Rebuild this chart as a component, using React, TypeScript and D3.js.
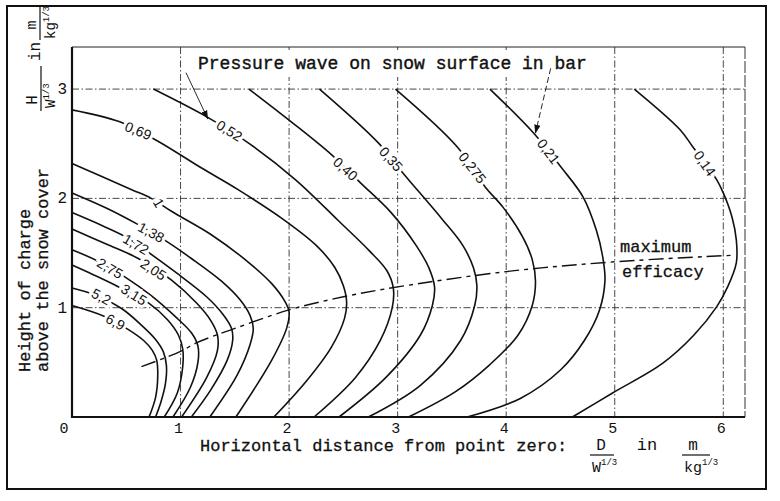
import React from 'react';
import * as d3 from 'd3';

const xTicks = [0, 1, 2, 3, 4, 5, 6];
const yTicks = [1, 2, 3];

const c6_9 = [[0,1.02],[0.3,0.92],[0.52,0.80],[0.66,0.70],[0.74,0.61],[0.78,0.52],[0.79,0.38],[0.77,0.18],[0.71,0]];
const c5_2 = [[0,1.18],[0.23,1.11],[0.46,0.99],[0.64,0.84],[0.77,0.71],[0.84,0.60],[0.87,0.47],[0.86,0.30],[0.82,0.14],[0.77,0]];
const c3_15 = [[0,1.39],[0.2,1.30],[0.43,1.19],[0.71,1.04],[0.88,0.89],[0.98,0.75],[1.02,0.62],[1.02,0.46],[0.97,0.22],[0.85,0]];
const c2_75 = [[0,1.53],[0.23,1.43],[0.49,1.28],[0.73,1.11],[0.95,0.92],[1.10,0.77],[1.16,0.65],[1.16,0.50],[1.09,0.27],[0.93,0]];
const c2_05 = [[0,1.72],[0.32,1.58],[0.61,1.45],[0.92,1.25],[1.15,1.04],[1.28,0.88],[1.34,0.75],[1.34,0.61],[1.24,0.36],[1.01,0]];
const c1_72 = [[0,1.87],[0.28,1.75],[0.49,1.65],[0.67,1.53],[0.96,1.32],[1.24,1.10],[1.39,0.94],[1.47,0.81],[1.48,0.70],[1.43,0.52],[1.28,0.25],[1.10,0]];
const c1_38 = [[0,2.05],[0.32,1.91],[0.61,1.76],[0.85,1.62],[1.10,1.45],[1.38,1.24],[1.55,1.07],[1.64,0.93],[1.67,0.81],[1.64,0.66],[1.52,0.38],[1.27,0]];
const c1_00 = [[0,2.32],[0.55,2.08],[0.73,2.0],[0.92,1.88],[1.28,1.67],[1.62,1.42],[1.84,1.22],[1.96,1.06],[2.0,0.96],[1.98,0.82],[1.84,0.52],[1.51,0]];
const c0_69 = [[0,2.81],[0.44,2.70],[0.78,2.53],[1.19,2.28],[1.53,2.08],[1.93,1.82],[2.25,1.57],[2.42,1.37],[2.50,1.20],[2.53,1.05],[2.51,0.90],[2.39,0.64],[2.16,0.33],[1.86,0]];
const c0_52 = [[0.75,3.0],[1.27,2.73],[1.65,2.49],[2.06,2.17],[2.45,1.80],[2.74,1.52],[2.90,1.34],[2.96,1.18],[2.95,1.0],[2.84,0.70],[2.61,0.36],[2.23,0]];
const c0_40 = [[1.63,3.0],[2.02,2.70],[2.39,2.40],[2.66,2.14],[2.94,1.87],[3.17,1.57],[3.29,1.36],[3.34,1.19],[3.32,1.02],[3.21,0.75],[2.89,0.36],[2.46,0]];
const c0_35 = [[2.28,3.0],[2.82,2.51],[3.05,2.23],[3.41,1.81],[3.60,1.57],[3.70,1.36],[3.73,1.20],[3.71,1.02],[3.58,0.70],[3.21,0.29],[2.73,0]];
const c0_275 = [[2.98,3.0],[3.55,2.47],[3.81,2.10],[3.97,1.92],[4.15,1.65],[4.24,1.44],[4.27,1.24],[4.24,1.02],[4.11,0.75],[3.85,0.48],[3.53,0.23],[3.10,0]];
const c0_21 = [[3.85,3.0],[4.25,2.60],[4.51,2.28],[4.71,2.01],[4.83,1.71],[4.89,1.46],[4.91,1.25],[4.86,0.98],[4.72,0.70],[4.50,0.43],[4.13,0.17],[3.64,0]];
const c0_14 = [[5.18,3.0],[5.60,2.63],[5.72,2.47],[5.94,2.17],[6.0,2.05],[6.08,1.83],[6.12,1.62],[6.12,1.41],[6.04,1.19],[5.94,1.01],[5.73,0.75],[5.44,0.49],[4.98,0.22],[4.61,0]];

const curves = [c6_9, c5_2, c3_15, c2_75, c2_05, c1_72, c1_38, c1_00, c0_69, c0_52, c0_40, c0_35, c0_275, c0_21, c0_14];

// contour labels: text, x, y (data units), rotation in degrees
const labelText = ['6,9', '5,2', '3,15', '2,75', '2,05', '1,72', '1,38', '1', '0,69', '0,52', '0,40', '0,35', '0,275', '0,21', '0,14'];
const labelX = [0.40, 0.27, 0.57, 0.35, 0.75, 0.59, 0.73, 0.80, 0.61, 1.45, 2.52, 2.94, 3.69, 4.39, 5.83];
const labelY = [0.87, 1.10, 1.12, 1.36, 1.35, 1.58, 1.69, 1.96, 2.62, 2.62, 2.27, 2.36, 2.28, 2.43, 2.32];
const labelAngle = [28, 28, 32, 30, 34, 30, 28, 60, 22, 32, 42, 48, 52, 53, 55];

const maxEff = [[0.64,0.46],[1.0,0.60],[1.15,0.68],[1.5,0.81],[2.0,0.98],[2.5,1.10],[3.0,1.19],[4.0,1.33],[5.0,1.42],[6.1,1.48]];

const arrow1 = [[1.05, 3.15], [1.25, 2.73]];
const arrow2 = [[4.41, 3.19], [4.27, 2.60]];

const W = 780;
const H = 501;
const MONO = '"Liberation Mono", "DejaVu Sans Mono", monospace';
const SANS = '"Liberation Sans", "DejaVu Sans", sans-serif';

export default function App() {
  const x = d3.scaleLinear().domain([0, 6.2]).range([72, 745]);
  const y = d3.scaleLinear().domain([0, 3.385]).range([417, 47]);
  const line = d3.line<number[]>().x(d => x(d[0])).y(d => y(d[1])).curve(d3.curveCatmullRom.alpha(0.5));
  const grid = '7,2.5,1.5,2.5';

  return (
    <svg width={W} height={H} style={{ position: 'absolute', left: 0, top: 0, background: '#fff' }}>
      <defs>
        <marker id="ah" viewBox="0 0 10 10" refX="9" refY="5" markerWidth="9" markerHeight="9" orient="auto" markerUnits="userSpaceOnUse">
          <path d="M0,1.5 L10,5 L0,8.5 Z" fill="#111" />
        </marker>
      </defs>
      <rect x={0} y={0} width={W} height={H} fill="#fff" />
      {/* outer frame */}
      <rect x={7} y={6} width={759} height={483} fill="none" stroke="#111" strokeWidth={2} />

      {/* grid */}
      {xTicks.filter(t => t > 0).map(t => (
        <line key={'gx' + t} x1={x(t)} x2={x(t)} y1={y(3.385)} y2={y(0)} stroke="#333" strokeWidth={0.9} strokeDasharray={grid} />
      ))}
      {yTicks.map(t => (
        <line key={'gy' + t} x1={x(0)} x2={x(6.2)} y1={y(t)} y2={y(t)} stroke="#333" strokeWidth={0.9} strokeDasharray={grid} />
      ))}
      {/* plot border */}
      <line x1={x(0)} x2={x(6.2)} y1={y(3.385)} y2={y(3.385)} stroke="#222" strokeWidth={1} />
      <line x1={x(6.2)} x2={x(6.2)} y1={y(3.385)} y2={y(0)} stroke="#333" strokeWidth={1} strokeDasharray="12,2" />

      {/* title */}
      <rect x={190} y={50} width={412} height={27} fill="#fff" />
      <text x={198} y={69} fontFamily={MONO} fontSize={18} fill="#111" stroke="#111" strokeWidth={0.4}>Pressure wave on snow surface in bar</text>

      {/* contour lines */}
      {curves.map((c, i) => (
        <path key={'c' + i} d={line(c) as string} fill="none" stroke="#111" strokeWidth={1.6} />
      ))}

      {/* maximum efficacy */}
      <path d={line(maxEff) as string} fill="none" stroke="#111" strokeWidth={1.4} strokeDasharray="15,5,4,5" />

      {/* contour labels */}
      {labelText.map((t, i) => (
        <text key={'l' + i} x={x(labelX[i])} y={y(labelY[i])} transform={`rotate(${labelAngle[i]} ${x(labelX[i])} ${y(labelY[i])})`}
          textAnchor="middle" dominantBaseline="central" fontFamily={SANS} fontSize={14} fill="#111"
          stroke="#fff" strokeWidth={6} paintOrder="stroke">
          {t}
        </text>
      ))}

      {/* arrows */}
      <line x1={x(arrow1[0][0])} y1={y(arrow1[0][1])} x2={x(arrow1[1][0])} y2={y(arrow1[1][1])} stroke="#111" strokeWidth={0.9} markerEnd="url(#ah)" />
      <line x1={x(arrow2[0][0])} y1={y(arrow2[0][1])} x2={x(arrow2[1][0])} y2={y(arrow2[1][1])} stroke="#111" strokeWidth={0.9} strokeDasharray="6,3" markerEnd="url(#ah)" />

      {/* max efficacy text */}
      <text x={620} y={252} fontFamily={MONO} fontSize={17} fill="#111" stroke="#111" strokeWidth={0.3}>maximum</text>
      <text x={622} y={277} fontFamily={MONO} fontSize={17} fill="#111" stroke="#111" strokeWidth={0.3}>efficacy</text>

      {/* axes */}
      <line x1={x(0)} x2={x(0)} y1={y(3.385)} y2={y(0) + 1} stroke="#111" strokeWidth={2.2} />
      <line x1={x(0)} x2={x(6.2)} y1={y(0)} y2={y(0)} stroke="#111" strokeWidth={2.2} />

      {/* tick labels */}
      {xTicks.map(t => (
        <text key={'tx' + t} x={x(t) - (t === 0 ? 8 : 2)} y={433} textAnchor="middle" fontFamily={MONO} fontSize={15} fill="#111">{t}</text>
      ))}
      {yTicks.map(t => (
        <text key={'ty' + t} x={67} y={y(t) + 5} textAnchor="end" fontFamily={MONO} fontSize={16} fill="#111">{t}</text>
      ))}

      {/* x axis title */}
      <text x={200} y={451} fontFamily={MONO} fontSize={17} fill="#111" stroke="#111" strokeWidth={0.3}>Horizontal distance from point zero:</text>
      <text x={601} y={450} textAnchor="middle" fontFamily={MONO} fontSize={16} fill="#111">D</text>
      <line x1={590} x2={614} y1={455} y2={455} stroke="#111" strokeWidth={1.2} />
      <text x={592} y={472} fontFamily={MONO} fontSize={15} fill="#111">W<tspan fontSize={9} dy={-7}>1/3</tspan></text>
      <text x={647} y={450} textAnchor="middle" fontFamily={MONO} fontSize={17} fill="#111">in</text>
      <text x={693} y={450} textAnchor="middle" fontFamily={MONO} fontSize={16} fill="#111">m</text>
      <line x1={682} x2={710} y1={455} y2={455} stroke="#111" strokeWidth={1.2} />
      <text x={684} y={472} fontFamily={MONO} fontSize={15} fill="#111">kg<tspan fontSize={9} dy={-7}>1/3</tspan></text>

      {/* y axis title */}
      <text transform="translate(30,372) rotate(-90)" fontFamily={MONO} fontSize={17} fill="#111" stroke="#111" strokeWidth={0.3}>Height of charge</text>
      <text transform="translate(48,372) rotate(-90)" fontFamily={MONO} fontSize={17} fill="#111" stroke="#111" strokeWidth={0.3}>above the snow cover</text>

      {/* y unit label */}
      <g transform="translate(40,112) rotate(-90)">
        <text x={12} y={-3} textAnchor="middle" fontFamily={MONO} fontSize={16} fill="#111">H</text>
        <line x1={1} x2={46} y1={1} y2={1} stroke="#111" strokeWidth={1.2} />
        <text x={4} y={15} fontFamily={MONO} fontSize={14} fill="#111">W<tspan fontSize={9} dy={-6}>1/3</tspan></text>
        <text x={51} y={0} fontFamily={MONO} fontSize={16} fill="#111">in</text>
        <text x={87} y={-4} textAnchor="middle" fontFamily={MONO} fontSize={15} fill="#111">m</text>
        <line x1={72} x2={106} y1={0} y2={0} stroke="#111" strokeWidth={1.2} />
        <text x={73} y={15} fontFamily={MONO} fontSize={14} fill="#111">kg<tspan fontSize={9} dy={-6}>1/3</tspan></text>
      </g>
    </svg>
  );
}
